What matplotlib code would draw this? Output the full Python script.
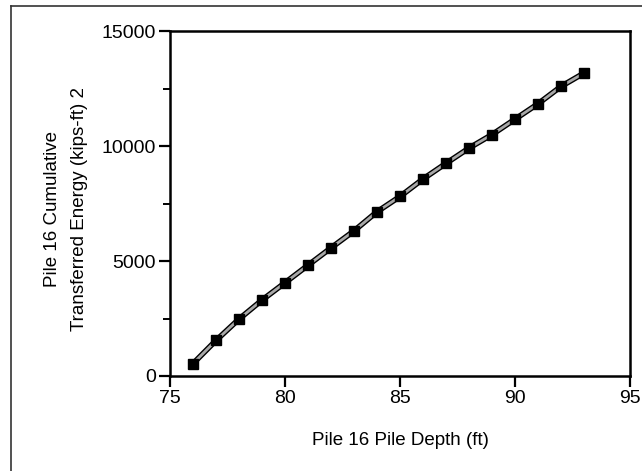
import numpy as np
import matplotlib.pyplot as plt
from matplotlib.lines import Line2D

plt.rcParams['font.family'] = ['Liberation Sans', 'DejaVu Sans']

# data
depth = [76, 77, 78, 79, 80, 81, 82, 83, 84, 85, 86, 87, 88, 89, 90, 91, 92, 93]
energy = [540, 1545, 2475, 3300, 4055, 4815, 5570, 6310, 7140, 7805,
          8565, 9245, 9910, 10495, 11165, 11835, 12590, 13170]
x_ticks = [75, 80, 85, 90, 95]
y_ticks = [0, 5000, 10000, 15000]

fig = plt.figure(figsize=(6.42, 4.71), dpi=100)
ax = fig.add_axes([170 / 642, 1 - 376 / 471, 460 / 642, 345 / 471])

# outer frame (only top and left edges are visible in the crop)
fig.add_artist(Line2D([11.5 / 642, 11.5 / 642], [0, 1 - 6 / 471], transform=fig.transFigure,
                      color='#333333', lw=1.2))
fig.add_artist(Line2D([11.5 / 642, 1], [1 - 6 / 471, 1 - 6 / 471], transform=fig.transFigure,
                      color='#333333', lw=1.2))

# double line: black outline with grey centre
ax.plot(depth, energy, color='black', lw=4.0, solid_capstyle='butt', zorder=2)
ax.plot(depth, energy, color='#a8a8a8', lw=2.0, solid_capstyle='butt', zorder=3)
ax.plot(depth, energy, ls='none', marker='s', ms=7, color='black', zorder=4)

ax.set_xlim(75, 95)
ax.set_ylim(0, 15000)
ax.set_xticks(x_ticks)
ax.set_yticks(y_ticks)
ax.set_yticks([2500, 7500, 12500], minor=True)

for s in ax.spines.values():
    s.set_linewidth(1.8)
ax.tick_params(which='major', direction='out', length=8, width=1.6, labelsize=14, pad=2)
ax.tick_params(which='minor', direction='out', length=5, width=1.4)

ax.set_xlabel('Pile 16 Pile Depth (ft)', fontsize=13.5, va='center')
ax.xaxis.set_label_coords(0.5, -0.186)
ax.set_ylabel('Pile 16 Cumulative\nTransferred Energy (kips-ft) 2', fontsize=13.5,
              linespacing=1.8, va='center')
ax.yaxis.set_label_coords(-0.226, 0.485)

fig.savefig('out.png', dpi=100)
